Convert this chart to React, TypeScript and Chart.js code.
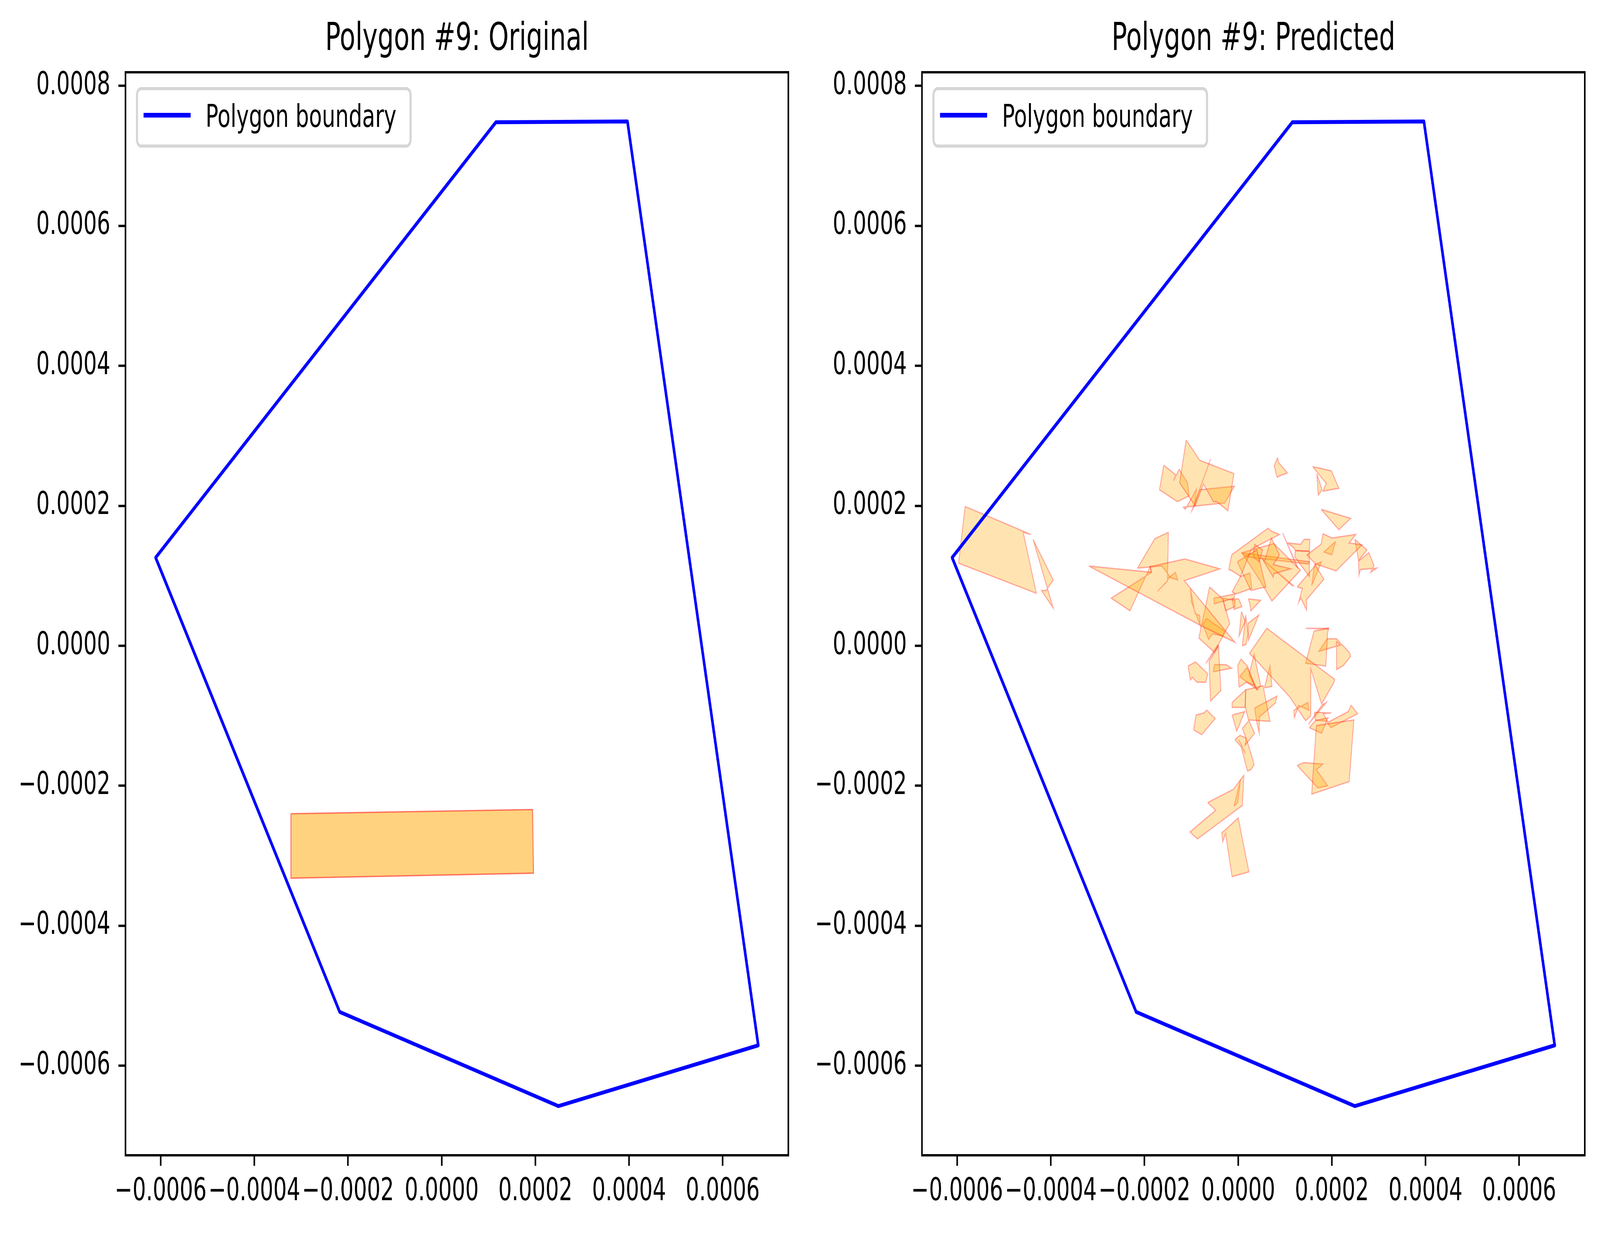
import { useEffect, useRef } from 'react'
import Chart from 'chart.js/auto'

// ─── Данные: все координаты в единицах 1e-4 ─────────────────────────────────
const UNIT = 1e-4
const X_LIMITS = [-6.751, 7.402]
const Y_LIMITS = [-7.28, 8.195]
const X_TICKS = [-6, -4, -2, 0, 2, 4, 6]
const Y_TICKS = [-6, -4, -2, 0, 2, 4, 6, 8]

const BOUNDARY_LABEL = 'Polygon boundary'
const BOUNDARY_X = [-6.108, 1.156, 3.966, 6.759, 2.49, -2.178]
const BOUNDARY_Y = [1.26, 7.48, 7.492, -5.709, -6.577, -5.232]

const ORIGINAL_X = [-3.22, 1.94, 1.96, -3.22]
const ORIGINAL_Y = [-2.4, -2.34, -3.25, -3.32]

// предсказанные многоугольники: [x, y] вершины
const PREDICTED: number[][][] = [
  [[-5.83, 1.99], [-4.6, 1.64], [-4.42, 1.59], [-4.59, 1.62], [-4.31, 0.75], [-5.97, 1.18]],
  [[-4.38, 1.52], [-3.95, 0.94], [-4.1, 0.79], [-4.2, 0.79], [-3.95, 0.54]],
  [[-1.11, 2.94], [-0.82, 2.65], [-0.09, 2.46], [-0.22, 1.93], [-0.46, 2.06], [-0.53, 2.06], [-0.74, 2.31], [-0.92, 2.0], [-1.25, 2.33]],
  [[-1.59, 2.58], [-1.33, 2.44], [-1.38, 2.36], [-1.26, 2.52], [-1.08, 2.33], [-1.05, 2.14], [-1.3, 2.06], [-1.68, 2.23]],
  [[-0.82, 2.23], [-0.08, 2.28], [-0.29, 2.04], [-1.17, 1.98], [-1.13, 1.95], [-0.89, 2.24], [-0.93, 2.01]],
  [[-0.59, 2.67], [-0.99, 1.93], [-0.97, 1.95]],
  [[0.84, 2.69], [0.86, 2.62], [1.05, 2.47], [0.93, 2.44], [0.83, 2.41], [0.77, 2.57]],
  [[1.59, 2.56], [1.99, 2.5], [2.15, 2.25], [1.81, 2.21], [1.88, 2.32]],
  [[1.68, 2.46], [1.79, 2.23], [1.71, 2.15]],
  [[1.77, 1.95], [2.4, 1.82], [2.15, 1.66]],
  [[1.77, 1.45], [1.81, 1.6], [2.0, 1.54], [2.51, 1.59], [2.37, 1.47], [2.64, 1.44], [2.09, 1.07], [1.65, 1.17], [1.47, 1.3]],
  [[2.08, 1.49], [2.0, 1.3], [1.83, 1.34]],
  [[2.49, 1.52], [2.75, 1.37], [2.57, 1.22]],
  [[2.57, 1.21], [2.79, 1.33], [2.9, 1.15], [2.83, 1.05], [2.96, 1.11], [2.61, 1.09], [2.58, 1.01]],
  [[-3.19, 1.14], [-1.85, 1.05], [-1.88, 1.13], [-1.14, 1.24], [-0.39, 1.1], [-1.15, 0.93], [-0.07, 0.05], [-0.8, 0.29], [-2.12, 0.76], [-2.35, 0.84]],
  [[-1.85, 1.05], [-2.71, 0.68], [-2.31, 0.5], [-1.88, 1.13]],
  [[-2.15, 1.11], [-1.78, 1.53], [-1.49, 1.62], [-1.51, 0.94], [-1.46, 0.99], [-1.63, 1.14]],
  [[-1.47, 0.98], [-1.34, 1.05], [-1.29, 0.94], [-1.43, 0.97]],
  [[-1.72, 0.78], [-1.51, 0.93], [-1.53, 0.91]],
  [[-0.61, 0.84], [-0.33, 0.67], [-0.18, 0.32], [-0.51, -0.09], [-0.84, 0.11]],
  [[-1.02, 0.82], [-0.92, 0.46], [-0.82, 0.43], [-0.81, 0.29], [-1.0, 0.63]],
  [[-0.76, 0.31], [-0.68, 0.39], [-0.29, 0.21], [-0.32, 0.14], [-0.55, 0.17], [-0.63, 0.09]],
  [[-0.14, 1.3], [0.64, 1.68], [0.7, 1.64], [0.88, 1.59], [0.28, 1.38], [0.05, 0.99], [-0.13, 1.07], [-0.2, 1.09]],
  [[-0.52, 0.68], [-0.07, 0.74], [-0.09, 0.68], [-0.51, 0.6]],
  [[-0.33, 0.68], [-0.07, 0.65], [-0.07, 0.56], [-0.27, 0.5]],
  [[-0.02, 1.2], [0.4, 1.37], [0.59, 0.84], [0.27, 0.79]],
  [[0.32, 1.27], [0.35, 1.45], [0.52, 1.37], [0.45, 1.2]],
  [[0.05, 0.99], [0.25, 1.04], [0.29, 0.82], [-0.05, 0.74], [-0.13, 0.77]],
  [[0.57, 1.22], [0.71, 1.54], [0.88, 1.3], [0.75, 1.16], [1.12, 1.1], [0.76, 1.03], [0.75, 0.98], [0.52, 1.24]],
  [[0.08, 1.33], [0.76, 1.46], [1.33, 1.08], [0.72, 0.64], [0.46, 0.94]],
  [[0.07, 1.33], [1.52, 1.2], [1.5, 1.17], [0.2, 1.27]],
  [[1.22, 1.36], [1.52, 1.35], [1.52, 0.99], [1.21, 1.27]],
  [[1.05, 1.47], [1.33, 1.45], [1.41, 1.52], [1.53, 1.52], [1.52, 1.35], [1.22, 1.36], [1.19, 1.4]],
  [[0.95, 1.61], [1.27, 1.12], [1.25, 1.13]],
  [[0.54, 1.22], [1.18, 0.86], [1.15, 0.86]],
  [[1.26, 0.84], [1.65, 1.15], [1.83, 0.95], [1.46, 0.66], [1.46, 0.51], [1.34, 0.68], [1.29, 0.62], [1.37, 0.82]],
  [[1.57, 0.86], [1.78, 1.2], [1.63, 1.16]],
  [[-0.13, 0.67], [0.01, 0.67], [0.08, 0.56], [-0.09, 0.52]],
  [[0.22, 0.67], [0.48, 0.65], [0.27, 0.5], [0.25, 0.59]],
  [[0.07, 0.49], [0.15, 0.35], [0.02, 0.14]],
  [[0.16, 0.44], [0.21, 0.17], [0.17, 0.02], [0.09, 0.0]],
  [[0.21, 0.32], [0.44, 0.44], [0.22, 0.08]],
  [[0.24, -0.11], [0.61, 0.25], [2.06, -0.48], [2.04, -0.53], [1.78, -0.83], [1.55, -0.33], [1.55, -1.0], [1.44, -1.07], [1.1, -0.73], [0.32, -0.16]],
  [[1.62, 0.21], [1.93, 0.25], [1.91, 0.19], [1.87, -0.29], [1.44, -0.25]],
  [[1.44, 0.25], [1.93, 0.25], [1.93, 0.24]],
  [[1.9, 0.1], [2.1, 0.1], [2.38, -0.1], [2.4, -0.15], [2.25, -0.28], [2.1, -0.34], [2.1, 0.06], [2.18, 0.01], [1.72, -0.08]],
  [[1.67, -1.14], [2.47, -1.06], [2.37, -1.94], [1.57, -2.12]],
  [[1.9, -1.1], [2.35, -0.94], [2.41, -0.85], [2.55, -0.97], [1.98, -1.17]],
  [[1.26, -1.71], [1.4, -1.67], [1.81, -1.69], [1.67, -1.77], [1.91, -2.0], [1.7, -2.03]],
  [[1.52, -1.17], [1.65, -1.07], [1.92, -1.03], [1.78, -1.25]],
  [[1.63, -0.95], [1.99, -0.96], [1.82, -0.97], [1.9, -1.08], [1.65, -1.06]],
  [[1.5, -1.12], [1.88, -0.81], [1.8, -0.84]],
  [[1.19, -0.92], [1.49, -0.81], [1.51, -0.92], [1.29, -0.85], [1.2, -1.03]],
  [[0.56, -0.6], [0.68, -0.28], [0.72, -0.58]],
  [[-0.01, -0.28], [0.06, -0.19], [0.2, -0.29], [0.35, -0.57], [0.18, -0.52], [0.02, -0.59]],
  [[0.03, -0.44], [0.19, -0.31], [0.4, -0.62], [0.17, -0.51]],
  [[0.23, -0.42], [0.34, -0.12], [0.48, -0.57], [0.4, -0.63]],
  [[0.16, -0.63], [0.53, -0.57], [0.6, -0.81], [0.68, -1.08], [0.22, -1.06], [0.15, -0.87]],
  [[-0.13, -0.81], [0.16, -0.63], [0.15, -0.88], [-0.13, -0.88]],
  [[0.35, -0.89], [0.83, -0.72], [0.79, -0.82], [0.45, -1.02], [0.45, -1.25], [0.4, -1.1]],
  [[-0.13, -0.99], [0.14, -0.94], [-0.03, -1.22]],
  [[0.09, -1.18], [0.23, -1.07], [0.35, -1.25], [0.15, -1.42], [0.17, -1.33]],
  [[-0.07, -1.34], [0.04, -1.28], [0.17, -1.32], [0.31, -1.62], [0.34, -1.7], [0.27, -1.77], [0.2, -1.79], [0.06, -1.44]],
  [[0.01, -1.34], [0.15, -1.54], [0.13, -1.5]],
  [[-0.65, -2.24], [-0.1, -2.05], [0.12, -1.85], [0.09, -2.28], [-0.87, -2.76], [-1.03, -2.66], [-0.48, -2.35]],
  [[-0.09, -2.29], [0.05, -1.91], [-0.01, -2.24]],
  [[-0.29, -2.64], [0.0, -2.46], [0.23, -3.23], [-0.13, -3.3], [-0.27, -2.68], [-0.33, -2.8], [-0.35, -2.67]],
  [[-1.07, -0.29], [-0.91, -0.23], [-0.65, -0.4], [-0.69, -0.52], [-0.88, -0.52], [-0.98, -0.45], [-1.02, -0.49]],
  [[-0.62, -0.22], [-0.42, -0.01], [-0.37, -0.64], [-0.59, -0.79]],
  [[-0.51, -0.27], [-0.26, -0.27], [-0.14, -0.32], [-0.53, -0.37]],
  [[-0.69, -0.25], [-0.42, 0.0], [-0.44, 0.01]],
  [[-0.95, -1.2], [-0.9, -0.99], [-0.73, -0.96], [-0.67, -0.92], [-0.49, -1.04], [-0.78, -1.27]],
]

// ─── Геометрия (пиксели эталона 6119×3157) ───────────────────────────────────
const PAGE_W = 6119
const PAGE_H = 3157
const AXES = { left: 480, top: 185, right: 3015, bottom: 2958 }
const PANEL_OFFSET = 3046
const FONT = 'DejaVu Sans'

const fmtTick = (v: number) => {
  const r = Math.round(v / UNIT)
  const s = (Math.abs(r) * UNIT).toFixed(4)
  return r < 0 ? '\u2212' + s : s
}

const closed = (xs: number[], ys: number[]) => {
  const pts = xs.map((x, i) => ({ x: x * UNIT, y: ys[i] * UNIT }))
  return [...pts, pts[0]]
}

// рамка осей + легенда в стиле matplotlib
const framePlugin = {
  id: 'mplFrame',
  afterDraw(chart: any) {
    const { ctx, chartArea: a } = chart
    ctx.save()
    ctx.strokeStyle = '#000'
    ctx.lineWidth = 6
    ctx.strokeRect(a.left, a.top, a.right - a.left, a.bottom - a.top)

    // легенда
    const x0 = a.left + 44
    const y0 = a.top + 42
    const w = 1046
    const h = 147
    const r = 16
    ctx.beginPath()
    ctx.moveTo(x0 + r, y0)
    ctx.arcTo(x0 + w, y0, x0 + w, y0 + h, r)
    ctx.arcTo(x0 + w, y0 + h, x0, y0 + h, r)
    ctx.arcTo(x0, y0 + h, x0, y0, r)
    ctx.arcTo(x0, y0, x0 + w, y0, r)
    ctx.closePath()
    ctx.fillStyle = 'rgba(255,255,255,0.8)'
    ctx.fill()
    ctx.strokeStyle = 'rgba(204,204,204,0.8)'
    ctx.lineWidth = 8
    ctx.stroke()

    const ds = chart.data.datasets[0]
    ctx.beginPath()
    ctx.moveTo(a.left + 75, a.top + 110)
    ctx.lineTo(a.left + 243, a.top + 110)
    ctx.strokeStyle = ds.borderColor
    ctx.lineWidth = 12
    ctx.lineCap = 'square'
    ctx.stroke()

    ctx.font = `81px "${FONT}"`
    ctx.fillStyle = '#000'
    ctx.textBaseline = 'alphabetic'
    ctx.textAlign = 'left'
    ctx.fillText(ds.label, a.left + 306, a.top + 140)
    ctx.restore()
  },
}

function Panel({
  title,
  polygons,
  fill,
  edge,
  left,
  width,
  sx,
  sy,
}: {
  title: string
  polygons: { xs: number[]; ys: number[] }[]
  fill: string
  edge: string
  left: number
  width: number
  sx: number
  sy: number
}) {
  const canvasRef = useRef<HTMLCanvasElement>(null)

  useEffect(() => {
    const canvas = canvasRef.current
    if (!canvas) return
    const tickFont = { family: FONT, size: 81, lineHeight: 1.2 }
    const axisGrid = {
      display: true,
      drawOnChartArea: false,
      drawTicks: true,
      tickLength: 27,
      tickWidth: 6,
      tickColor: '#000',
    }
    const chart = new Chart(canvas, {
      type: 'line',
      data: {
        datasets: [
          {
            label: BOUNDARY_LABEL,
            data: closed(BOUNDARY_X, BOUNDARY_Y),
            borderColor: '#0000ff',
            borderWidth: 10,
            borderJoinStyle: 'round',
            borderCapStyle: 'round',
            fill: false,
            pointRadius: 0,
            pointHoverRadius: 0,
            tension: 0,
          },
          ...polygons.map((p) => ({
            label: '',
            data: closed(p.xs, p.ys),
            borderColor: edge,
            backgroundColor: fill,
            borderWidth: 3.5,
            borderJoinStyle: 'miter' as const,
            fill: 'shape' as const,
            pointRadius: 0,
            pointHoverRadius: 0,
            tension: 0,
          })),
        ],
      },
      options: {
        responsive: false,
        devicePixelRatio: 1,
        animation: false,
        events: [],
        layout: { padding: { left: 0, top: 0, bottom: 0, right: width - AXES.right } },
        plugins: {
          legend: { display: false },
          tooltip: { enabled: false },
          title: {
            display: true,
            text: title,
            fullSize: false,
            color: '#000',
            font: { family: FONT, size: 98, weight: 'normal', lineHeight: 1.2 },
            padding: { top: 44, bottom: 23.4 },
          },
        },
        scales: {
          x: {
            type: 'linear',
            position: 'bottom',
            min: X_LIMITS[0] * UNIT,
            max: X_LIMITS[1] * UNIT,
            grid: axisGrid,
            border: { display: false },
            afterBuildTicks: (s: any) => {
              s.ticks = X_TICKS.map((v) => ({ value: v * UNIT }))
            },
            afterFit: (s: any) => {
              s.height = PAGE_H - AXES.bottom
            },
            ticks: {
              color: '#000',
              font: tickFont,
              padding: 18,
              autoSkip: false,
              maxRotation: 0,
              minRotation: 0,
              callback: (v: any) => fmtTick(Number(v)),
            },
          },
          y: {
            type: 'linear',
            position: 'left',
            min: Y_LIMITS[0] * UNIT,
            max: Y_LIMITS[1] * UNIT,
            grid: axisGrid,
            border: { display: false },
            afterBuildTicks: (s: any) => {
              s.ticks = Y_TICKS.map((v) => ({ value: v * UNIT }))
            },
            afterFit: (s: any) => {
              s.width = AXES.left
            },
            ticks: {
              color: '#000',
              font: tickFont,
              padding: 31,
              autoSkip: false,
              callback: (v: any) => fmtTick(Number(v)),
            },
          },
        },
      },
      plugins: [framePlugin],
    } as any)
    return () => chart.destroy()
  }, [title, polygons, fill, edge, width])

  // холст рисуется в размере эталона и ужимается под окно, если оно меньше
  return (
    <canvas
      ref={canvasRef}
      width={width}
      height={PAGE_H}
      style={{
        position: 'absolute',
        left: left * sx,
        top: 0,
        width: width * sx,
        height: PAGE_H * sy,
      }}
    />
  )
}

const ORIGINAL_POLYS = [{ xs: ORIGINAL_X, ys: ORIGINAL_Y }]
const PREDICTED_POLYS = PREDICTED.map((p) => ({ xs: p.map((v) => v[0]), ys: p.map((v) => v[1]) }))

export default function App() {
  useEffect(() => {
    document.body.style.margin = '0'
    document.body.style.overflow = 'hidden'
  }, [])
  const sx = Math.min(1, window.innerWidth / PAGE_W)
  const sy = Math.min(1, window.innerHeight / PAGE_H)
  return (
    <div
      style={{
        position: 'fixed',
        left: 0,
        top: 0,
        width: PAGE_W * sx,
        height: PAGE_H * sy,
        background: '#fff',
        overflow: 'hidden',
      }}
    >
      <Panel
        title="Polygon #9: Original"
        polygons={ORIGINAL_POLYS}
        fill="rgba(255,165,0,0.5)"
        edge="rgba(255,0,0,0.5)"
        left={0}
        width={PANEL_OFFSET}
        sx={sx}
        sy={sy}
      />
      <Panel
        title="Polygon #9: Predicted"
        polygons={PREDICTED_POLYS}
        fill="rgba(255,165,0,0.3)"
        edge="rgba(255,0,0,0.3)"
        left={PANEL_OFFSET}
        width={PAGE_W - PANEL_OFFSET}
        sx={sx}
        sy={sy}
      />
    </div>
  )
}
